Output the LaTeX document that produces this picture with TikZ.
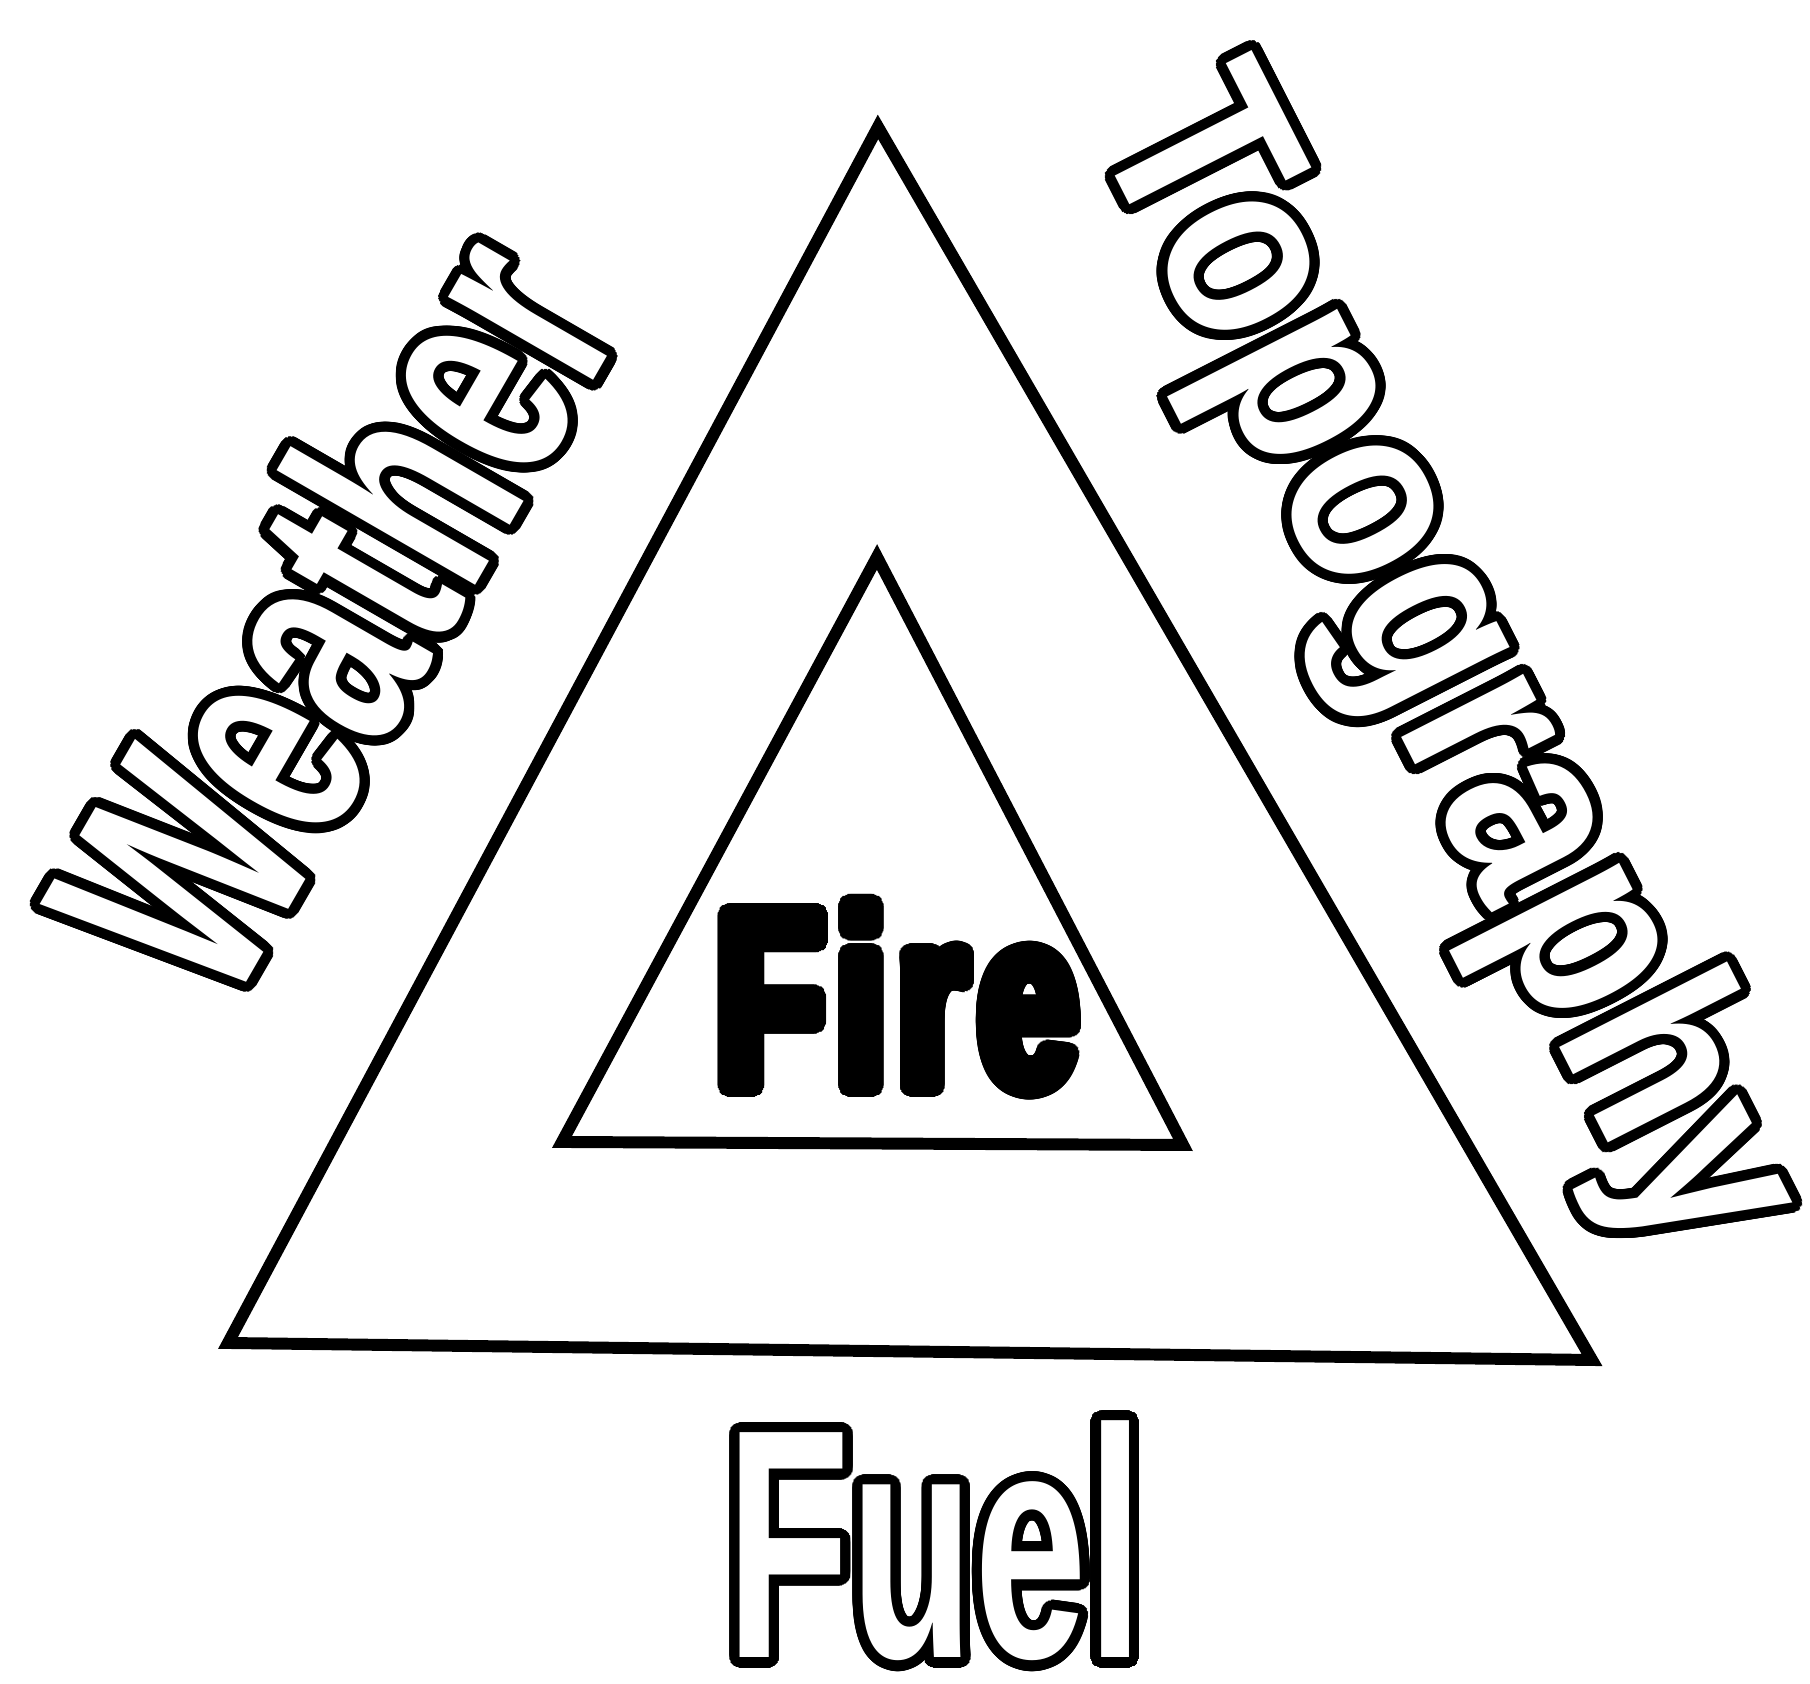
\documentclass[tikz,border=0pt]{standalone}
\usepackage{fontspec}
\usepackage{xcolor}
\usepackage{contour}
\usepackage{tikz}
\usetikzlibrary{positioning}

\newfontfamily\firefont{Liberation Sans}[UprightFont=* Bold, FakeStretch=0.70, LetterSpace=5]
\newfontfamily\fuelfont{Liberation Sans}[UprightFont=* Bold, FakeStretch=0.62]
\newfontfamily\weatherfont{Liberation Sans}[UprightFont=* Bold, FakeStretch=0.64]
\newfontfamily\topofont{Liberation Sans}[UprightFont=* Bold, FakeStretch=0.86]
\contournumber{48}
\newcommand{\hollow}[1]{{\contourlength{2.9pt}\color{white}\contour{black}{#1}}}
\newcommand{\heavy}[1]{{\contourlength{2.9pt}\contour{black}{#1}}}

\tikzset{
  label text/.style={inner sep=0pt, outer sep=0pt},
}

\begin{document}
\begin{tikzpicture}[line width=3.4pt, line join=miter]
    \useasboundingbox (0,0) rectangle (18.10,16.84);

    % Outer triangle
    \coordinate (outer top) at (8.78,15.57);
    \coordinate (outer left) at (2.28,3.41);
    \coordinate (outer right) at (15.92,3.24);
    \draw (outer top) -- (outer left) -- (outer right) -- cycle;

    % Inner triangle
    \coordinate (inner top) at (8.77,11.27);
    \coordinate (inner left) at (5.62,5.42);
    \coordinate (inner right) at (11.83,5.39);
    \draw (inner top) -- (inner left) -- (inner right) -- cycle;

    % Fire
    \node[label text, anchor=base west] (fire) at (7.17,5.97)
        {\firefont\fontsize{71.5}{72}\selectfont\heavy{Fire}};

    % Sides
    \node[label text, rotate=60] (weather) at (3.34,10.69)
        {\weatherfont\fontsize{90}{90}\selectfont\hollow{Weather}};
    \node[label text, rotate=-63] (topography) at (14.36,10.14)
        {\topofont\fontsize{74}{74}\selectfont\hollow{Topography}};
    \node[label text, anchor=base] (fuel) at (9.35,0.26)
        {\fuelfont\fontsize{93}{93}\selectfont\hollow{Fuel}};
\end{tikzpicture}
\end{document}
